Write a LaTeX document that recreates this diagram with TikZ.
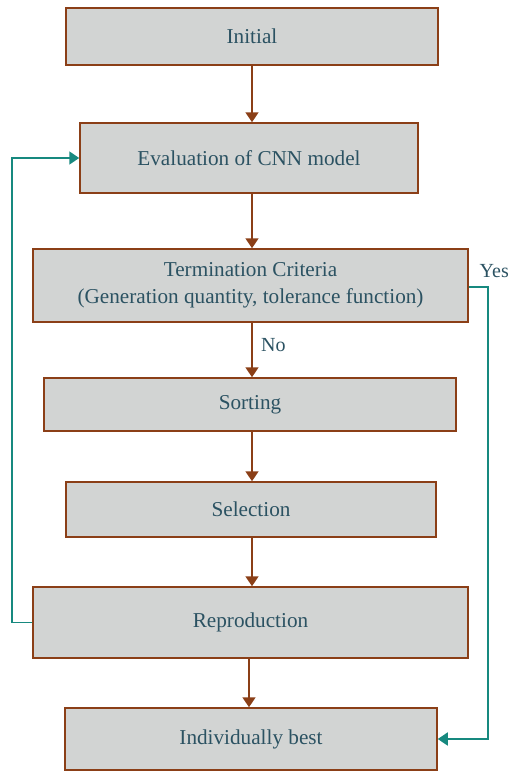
\documentclass[tikz,border=0pt]{standalone}
\usepackage{fontspec}
\setmainfont{Liberation Serif}
\usetikzlibrary{arrows.meta}
\definecolor{boxfill}{HTML}{D2D4D3}
\definecolor{boxline}{HTML}{8B3F17}
\definecolor{txt}{HTML}{2B5262}
\definecolor{loop}{HTML}{17897F}
\tikzset{
  stage/.style={draw=boxline, line width=1.5pt, fill=boxfill, text=txt,
    font=\fontsize{21.2}{27}\selectfont, align=center, inner sep=0pt},
  flow/.style={draw=boxline, line width=1.5pt, -{Triangle[length=10pt,width=13pt]}},
  back/.style={draw=loop, line width=1.5pt, -{Triangle[length=10pt,width=13pt]}},
  lbl/.style={text=txt, font=\fontsize{20}{24}\selectfont, inner sep=0pt}
}
\begin{document}
\begin{tikzpicture}[x=1pt,y=-1pt]
\useasboundingbox (0,0) rectangle (510,771);
\node[stage, minimum width=372pt, minimum height=57pt] (init) at (252,36.5) {Initial};
\node[stage, minimum width=338pt, minimum height=70pt] (eval) at (249,158) {Evaluation of CNN model};
\node[stage, minimum width=435pt, minimum height=73pt] (term) at (250.5,285.5) {Termination Criteria\\(Generation quantity, tolerance function)};
\node[stage, minimum width=412pt, minimum height=53pt] (sort) at (250,404.5) {Sorting};
\node[stage, minimum width=370pt, minimum height=55pt] (sel) at (251,509.5) {Selection};
\node[stage, minimum width=435pt, minimum height=71pt] (repr) at (250.5,622.5) {Reproduction};
\node[stage, minimum width=372pt, minimum height=62pt] (best) at (251,739) {Individually best};

\coordinate (c1) at (252,0);
\draw[flow] (init.south -| c1) -- (eval.north -| c1);
\draw[flow] (eval.south -| c1) -- (term.north -| c1);
\draw[flow] (term.south -| c1) -- (sort.north -| c1);
\draw[flow] (sort.south -| c1) -- (sel.north -| c1);
\draw[flow] (sel.south -| c1) -- (repr.north -| c1);
\coordinate (c2) at (249,0);
\draw[flow] (repr.south -| c2) -- (best.north -| c2);

\coordinate (lx) at (12,0);
\draw[back] (repr.west) -- (repr.west -| lx) |- (eval.west);
\coordinate (ry) at (0,287);
\coordinate (rx) at (488,0);
\draw[back] (term.east |- ry) -- (ry -| rx) |- (best.east);

\node[lbl, anchor=east] (yes) at (509,271) {Yes};
\node[lbl, anchor=west] (no) at (261,345) {No};
\end{tikzpicture}
\end{document}
